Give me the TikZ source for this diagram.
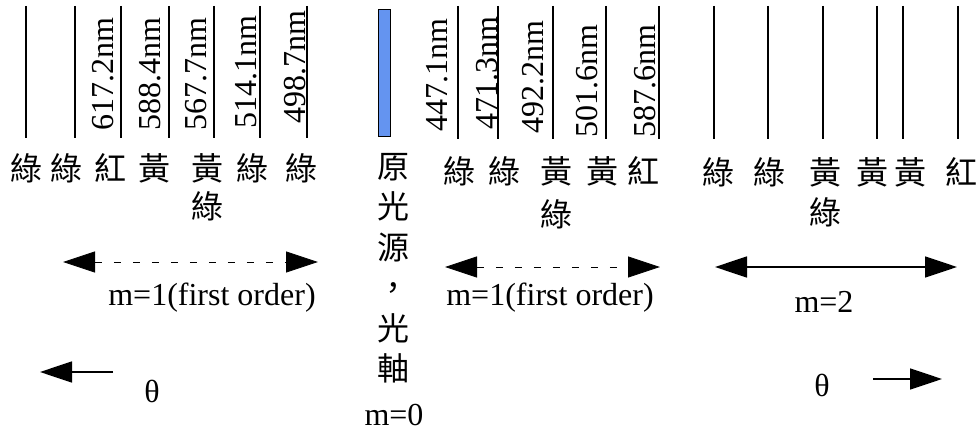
\documentclass[tikz,border=0pt]{standalone}
\usepackage{fontspec}
\setmainfont{Liberation Serif}
\newfontfamily\cjk{Noto Sans CJK TC}
\usetikzlibrary{arrows.meta}
\definecolor{srcblue}{RGB}{100,148,240}
\tikzset{
  vline/.style={line width=1.5pt},
  wl/.style={font=\fontsize{32}{32}\selectfont, rotate=90, anchor=base west, inner sep=0pt},
  zh/.style={font=\cjk\fontsize{32}{32}\selectfont, anchor=base, inner sep=0pt},
  lbl/.style={font=\fontsize{32}{32}\selectfont, anchor=base, inner sep=0pt},
  tip/.tip={Triangle[length=32pt,width=21pt]},
  dasharr/.style={tip-tip, line width=0.8pt, dash pattern=on 7pt off 12pt},
  solidarr/.style={tip-tip, line width=1.6pt},
  thetaarr/.style={-tip, line width=1.6pt}
}
\begin{document}
\begin{tikzpicture}[x=1pt,y=-1pt]
\useasboundingbox (0,0) rectangle (979,433);
% group 1 lines
\foreach \x/\n in {26/a1,75/a2,121/a3,169/a4,214/a5,260/a6,307/a7}{
  \coordinate (\n t) at (\x,6); \coordinate (\n b) at (\x,138);
  \draw[vline] (\n t) -- (\n b);
}
% group 2 lines
\foreach \x/\n in {458/b1,498/b2,553/b3,606/b4,659/b5}{
  \coordinate (\n t) at (\x,6); \coordinate (\n b) at (\x,139);
  \draw[vline] (\n t) -- (\n b);
}
% group 3 lines
\foreach \x/\n in {714/c1,768/c2,823/c3,877/c4,903/c5,958/c6}{
  \coordinate (\n t) at (\x,6); \coordinate (\n b) at (\x,139);
  \draw[vline] (\n t) -- (\n b);
}
% source
\node[draw=black, line width=1.2pt, fill=srcblue, minimum width=12pt, minimum height=127pt, inner sep=0pt] (src) at (384.5,73) {};
% wavelength labels
\node[wl] (w1) at (113,131) {617.2nm};
\node[wl] (w2) at (160,131) {588.4nm};
\node[wl] (w3) at (206,131) {567.7nm};
\node[wl] (w4) at (256,129) {514.1nm};
\node[wl] (w5) at (305,124) {498.7nm};
\node[wl] (w6) at (447,132) {447.1nm};
\node[wl] (w7) at (497,130) {471.3nm};
\node[wl] (w8) at (543,134) {492.2nm};
\node[wl] (w9) at (597,138) {501.6nm};
\node[wl] (w10) at (655,138) {587.6nm};
% group 1 colour names
\node[zh] (g1a) at (26,180) {綠};
\node[zh] (g1b) at (66,180) {綠};
\node[zh] (g1c) at (110,180) {紅};
\node[zh] (g1d) at (154,180) {黃};
\node[zh] (g1e) at (207,180) {黃};
\node[zh] (g1e2) at (207,218) {綠};
\node[zh] (g1f) at (252,180) {綠};
\node[zh] (g1g) at (301,180) {綠};
% source column
\node[zh] (s1) at (393,178) {原};
\node[zh] (s2) at (393,218.5) {光};
\node[zh] (s3) at (393,259) {源};
\node[zh] (s4) at (393,299.5) {，};
\node[zh] (s5) at (393,340) {光};
\node[zh] (s6) at (393,380.5) {軸};
\node[lbl] (m0) at (394,425) {m=0};
% group 2 colour names
\node[zh] (g2a) at (459,183) {綠};
\node[zh] (g2b) at (504,183) {綠};
\node[zh] (g2c) at (556,183) {黃};
\node[zh] (g2c2) at (556,226) {綠};
\node[zh] (g2d) at (602,183) {黃};
\node[zh] (g2e) at (643,183) {紅};
% group 3 colour names
\node[zh] (g3a) at (718,184) {綠};
\node[zh] (g3b) at (769,184) {綠};
\node[zh] (g3c) at (825,184) {黃};
\node[zh] (g3c2) at (825,224) {綠};
\node[zh] (g3d) at (872,184) {黃};
\node[zh] (g3e) at (910,184) {黃};
\node[zh] (g3f) at (961,184) {紅};
% order arrows
\coordinate (o1l) at (63,262); \coordinate (o1r) at (318,262);
\draw[dasharr] (o1l) -- (o1r);
\node[lbl] (m1a) at (212,305) {m=1(first order)};
\coordinate (o2l) at (445,267); \coordinate (o2r) at (660,267);
\draw[dasharr] (o2l) -- (o2r);
\node[lbl] (m1b) at (550,305) {m=1(first order)};
\coordinate (o3l) at (715,267); \coordinate (o3r) at (957,267);
\draw[solidarr] (o3l) -- (o3r);
\node[lbl] (m2) at (824,312) {m=2};
% theta arrows
\coordinate (t1s) at (113,372); \coordinate (t1e) at (40,372);
\draw[thetaarr] (t1s) -- (t1e);
\node[lbl] (th1) at (152,402) {θ};
\coordinate (t2s) at (873,379); \coordinate (t2e) at (942,379);
\draw[thetaarr] (t2s) -- (t2e);
\node[lbl] (th2) at (822,396) {θ};
\end{tikzpicture}
\end{document}
